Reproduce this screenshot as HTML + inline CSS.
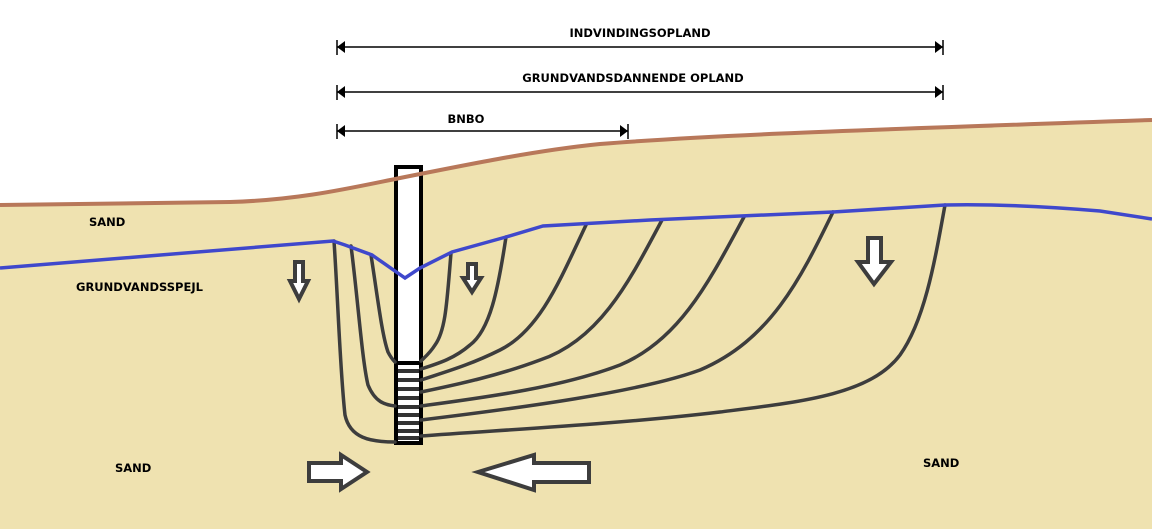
<!DOCTYPE html>
<html><head><meta charset="utf-8"><style>
html,body{margin:0;padding:0;background:#fff}
svg{display:block}
text{font-family:"DejaVu Sans","Liberation Sans",sans-serif;font-weight:bold;font-size:11.5px;fill:#000}
</style></head><body>
<svg width="1152" height="529" viewBox="0 0 1152 529" xmlns="http://www.w3.org/2000/svg">
<path d="M0,205 L230,202 C300,200 350,188 400,178 C480,162 540,150 600,144 C700,136 800,132 1152,120 L1152,529 L0,529 Z" fill="#efe2b0"/>
<rect x="396" y="167" width="25" height="276" fill="#fff" stroke="#000" stroke-width="4"/>
<line x1="396" y1="363" x2="421" y2="363" stroke="#000" stroke-width="4"/>
<g stroke="#333" stroke-width="4">
<line x1="398" y1="371" x2="419" y2="371"/><line x1="398" y1="380" x2="419" y2="380"/>
<line x1="398" y1="389" x2="419" y2="389"/><line x1="398" y1="398" x2="419" y2="398"/>
<line x1="398" y1="407" x2="419" y2="407"/><line x1="398" y1="415" x2="419" y2="415"/>
<line x1="398" y1="423" x2="419" y2="423"/><line x1="398" y1="431" x2="419" y2="431"/>
<line x1="398" y1="438" x2="419" y2="438"/>
</g>
<path d="M0,205 L230,202 C300,200 350,188 400,178 C480,162 540,150 600,144 C700,136 800,132 1152,120" fill="none" stroke="#b8785a" stroke-width="4"/>
<g fill="none" stroke="#3d3d3d" stroke-width="3.5" stroke-linecap="round">
<path d="M334,241 C338,300 340,370 345,415 C350,438 370,442 395,442"/>
<path d="M351,246 C358,300 362,360 368,385 C375,402 385,405 395,406"/>
<path d="M371,255 C378,300 382,335 388,352 C391,358 393,360 395,362"/>
<path d="M451,253 C447,300 446,330 435,345 C430,353 425,357 421,361"/>
<path d="M506,237 C498,290 490,330 470,345 C455,358 440,363 421,369"/>
<path d="M586,225 C560,280 540,330 500,350 C470,365 445,372 421,380"/>
<path d="M662,220 C630,280 600,340 540,360 C500,375 460,384 421,392"/>
<path d="M744,217 C710,280 680,340 620,365 C560,388 480,398 421,406"/>
<path d="M833,212 C800,280 770,340 700,370 C640,392 520,408 421,420"/>
<path d="M945,205 C935,260 925,320 900,355 C870,395 800,402 720,412 C620,424 500,430 421,436"/>
</g>
<path d="M0,268 L333,241 L345,245 L372,255 L405,278 L420,268 L452,252 L506,237 L543,226 L650,220 L833,212 L945,205 C990,204 1040,206 1100,211 L1152,219" fill="none" stroke="#3f48cc" stroke-width="3.5"/>
<g fill="#fff" stroke="#3d3d3d" stroke-width="4" stroke-linejoin="miter">
<path d="M295,262 L303,262 L303,281 L308,281 L299,299 L290,281 L295,281 Z"/>
<path d="M468,264 L476,264 L476,278 L481,278 L472,292 L463,278 L468,278 Z"/>
<path d="M868,238 L881,238 L881,262 L891,262 L874,284 L858,262 L868,262 Z"/>
<path d="M309,463 L341,463 L341,455 L367,472 L341,489 L341,481 L309,481 Z"/>
<path d="M589,463 L534,463 L534,455 L478,472 L534,490 L534,482 L589,482 Z"/>
</g>
<g stroke="#000" stroke-width="1.5">
<line x1="337" y1="47" x2="943" y2="47"/><line x1="337" y1="92" x2="943" y2="92"/><line x1="337" y1="131" x2="628" y2="131"/>
<line x1="337" y1="40" x2="337" y2="55"/><line x1="943" y1="40" x2="943" y2="55"/>
<line x1="337" y1="85" x2="337" y2="100"/><line x1="943" y1="85" x2="943" y2="100"/>
<line x1="337" y1="124" x2="337" y2="139"/><line x1="628" y1="124" x2="628" y2="139"/>
</g>
<g fill="#000">
<path d="M337,47 L345,41 L345,53 Z"/><path d="M943,47 L935,41 L935,53 Z"/>
<path d="M337,92 L345,86 L345,98 Z"/><path d="M943,92 L935,86 L935,98 Z"/>
<path d="M337,131 L345,125 L345,137 Z"/><path d="M628,131 L620,125 L620,137 Z"/>
</g>
<text x="640" y="37" text-anchor="middle">INDVINDINGSOPLAND</text>
<text x="633" y="82" text-anchor="middle">GRUNDVANDSDANNENDE OPLAND</text>
<text x="466" y="123" text-anchor="middle">BNBO</text>
<text x="89" y="226">SAND</text>
<text x="76" y="291">GRUNDVANDSSPEJL</text>
<text x="115" y="472">SAND</text>
<text x="923" y="467">SAND</text>
</svg>
</body></html>
